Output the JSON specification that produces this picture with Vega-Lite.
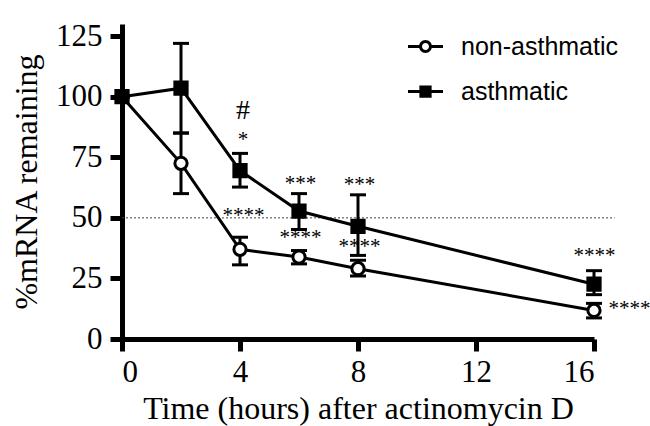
{
  "$schema": "https://vega.github.io/schema/vega-lite/v6.json",
  "autosize": {"type": "none"},
  "width": 472,
  "height": 315,
  "padding": {"left": 122, "top": 24, "right": 56, "bottom": 87},
  "background": "white",
  "config": {
    "view": {"stroke": null},
    "axis": {
      "grid": false,
      "domainColor": "black",
      "domainWidth": 5,
      "tickColor": "black",
      "tickWidth": 5,
      "tickSize": 12,
      "labelFont": "Liberation Serif",
      "labelFontSize": 31,
      "labelColor": "black",
      "titleFont": "Liberation Serif",
      "titleFontSize": 32,
      "titleFontWeight": "normal",
      "titleColor": "black"
    }
  },
  "datasets": {
    "series": [
      {"group": "non-asthmatic", "t": 0, "mean": 100, "lo": 100, "hi": 100},
      {"group": "non-asthmatic", "t": 2, "mean": 72.5, "lo": 60, "hi": 85},
      {"group": "non-asthmatic", "t": 4, "mean": 37, "lo": 30.6, "hi": 42},
      {"group": "non-asthmatic", "t": 6, "mean": 33.8, "lo": 31, "hi": 36.5},
      {"group": "non-asthmatic", "t": 8, "mean": 29, "lo": 26, "hi": 32.5},
      {"group": "non-asthmatic", "t": 16, "mean": 11.8, "lo": 8.7, "hi": 14.7},
      {"group": "asthmatic", "t": 0, "mean": 100, "lo": 100, "hi": 100},
      {"group": "asthmatic", "t": 2, "mean": 103.5, "lo": 85, "hi": 122},
      {"group": "asthmatic", "t": 4, "mean": 69.5, "lo": 62.7, "hi": 76.6},
      {"group": "asthmatic", "t": 6, "mean": 52.8, "lo": 45.2, "hi": 60},
      {"group": "asthmatic", "t": 8, "mean": 46.5, "lo": 34.5, "hi": 59.5},
      {"group": "asthmatic", "t": 16, "mean": 22.6, "lo": 18.3, "hi": 28.2}
    ],
    "notes": [
      {"x": 4.1, "y": 94, "label": "#", "kind": "hash"},
      {"x": 4.1, "y": 82, "label": "*", "kind": "star"},
      {"x": 6.05, "y": 64, "label": "***", "kind": "star"},
      {"x": 8.05, "y": 63.7, "label": "***", "kind": "star"},
      {"x": 4.12, "y": 50.8, "label": "****", "kind": "star"},
      {"x": 6.05, "y": 41.7, "label": "****", "kind": "star"},
      {"x": 8.05, "y": 38.1, "label": "****", "kind": "star"},
      {"x": 16.02, "y": 34.1, "label": "****", "kind": "star"},
      {"x": 17.2, "y": 12.3, "label": "****", "kind": "star"}
    ],
    "ref": [{"x": 0, "x2": 16.7, "y": 50}]
  },
  "layer": [
    {
      "data": {"name": "ref"},
      "mark": {"type": "rule", "strokeDash": [2, 2], "strokeWidth": 1, "color": "#444"},
      "encoding": {
        "x": {"field": "x", "type": "quantitative", "scale": {"domain": [0, 16]}},
        "x2": {"field": "x2"},
        "y": {"field": "y", "type": "quantitative"}
      }
    },
    {
      "data": {"name": "series"},
      "resolve": {"scale": {"shape": "independent"}},
      "layer": [
        {
          "mark": {"type": "rule", "color": "black", "strokeWidth": 3},
          "encoding": {
            "x": {"field": "t", "type": "quantitative"},
            "y": {"field": "lo", "type": "quantitative"},
            "y2": {"field": "hi"}
          }
        },
        {
          "mark": {"type": "tick", "orient": "horizontal", "color": "black", "thickness": 3, "size": 16, "opacity": 1},
          "encoding": {
            "x": {"field": "t", "type": "quantitative"},
            "y": {"field": "lo", "type": "quantitative"}
          }
        },
        {
          "mark": {"type": "tick", "orient": "horizontal", "color": "black", "thickness": 3, "size": 16, "opacity": 1},
          "encoding": {
            "x": {"field": "t", "type": "quantitative"},
            "y": {"field": "hi", "type": "quantitative"}
          }
        },
        {
          "mark": {"type": "line", "color": "black", "strokeWidth": 3},
          "encoding": {
            "x": {"field": "t", "type": "quantitative"},
            "y": {"field": "mean", "type": "quantitative"},
            "detail": {"field": "group"},
            "order": {"field": "t"}
          }
        },
        {
          "mark": {"type": "point", "filled": false, "stroke": "black", "strokeWidth": 3, "opacity": 1, "size": 150},
          "encoding": {
            "x": {
              "field": "t", "type": "quantitative",
              "scale": {"domain": [0, 16]},
              "axis": {"values": [0, 4, 8, 12, 16], "title": "Time (hours) after actinomycin D", "labelPadding": 6, "titlePadding": 6, "domainWidth": 5, "tickWidth": 5, "domainColor": "black", "tickColor": "black"}
            },
            "y": {
              "field": "mean", "type": "quantitative",
              "scale": {"domain": [0, 125]},
              "axis": {"values": [0, 25, 50, 75, 100, 125], "title": "%mRNA remaining", "labelPadding": 8, "titlePadding": 12, "domainWidth": 5, "tickWidth": 5, "domainColor": "black", "tickColor": "black"}
            },
            "shape": {
              "field": "group", "type": "nominal",
              "scale": {"domain": ["non-asthmatic", "asthmatic"], "range": ["circle", "square"]},
              "legend": null
            },
            "fill": {
              "field": "group", "type": "nominal",
              "scale": {"domain": ["non-asthmatic", "asthmatic"], "range": ["white", "black"]},
              "legend": null
            }
          }
        },
        {
          "transform": [{"filter": "false"}],
          "mark": {"type": "point", "filled": true, "color": "black", "strokeWidth": 0, "opacity": 1},
          "encoding": {
            "x": {"field": "t", "type": "quantitative"},
            "y": {"field": "mean", "type": "quantitative"},
            "shape": {
              "field": "group", "type": "nominal",
              "scale": {
                "domain": ["non-asthmatic", "asthmatic"],
                "range": [
                  "M-1,-0.085H-0.33V0.085H-1Z M0.33,-0.085H1V0.085H0.33Z M-0.37,0A0.37,0.37 0 1,1 0.37,0A0.37,0.37 0 1,1 -0.37,0Z M-0.2,0A0.2,0.2 0 1,0 0.2,0A0.2,0.2 0 1,0 -0.2,0Z",
                  "M-1,-0.085H1V0.085H-1Z M-0.35,-0.35H0.35V0.35H-0.35Z"
                ]
              },
              "legend": {
                "title": null,
                "orient": "none",
                "legendX": 286,
                "legendY": 5,
                "padding": 0,
                "symbolSize": 1225,
                "symbolFillColor": "black",
                "symbolStrokeWidth": 0,
                "symbolOpacity": 1,
                "labelFont": "Liberation Sans",
                "labelFontSize": 25,
                "labelColor": "black",
                "labelOffset": 18,
                "rowPadding": 14
              }
            }
          }
        }
      ]
    },
    {
      "data": {"name": "notes"},
      "mark": {"type": "text", "font": "Liberation Serif", "fontSize": 21, "color": "black", "baseline": "middle", "align": "center"},
      "encoding": {
        "x": {"field": "x", "type": "quantitative"},
        "y": {"field": "y", "type": "quantitative"},
        "text": {"field": "label"},
        "size": {"field": "kind", "type": "nominal", "scale": {"domain": ["hash", "star"], "range": [28, 21]}, "legend": null}
      }
    }
  ]
}
